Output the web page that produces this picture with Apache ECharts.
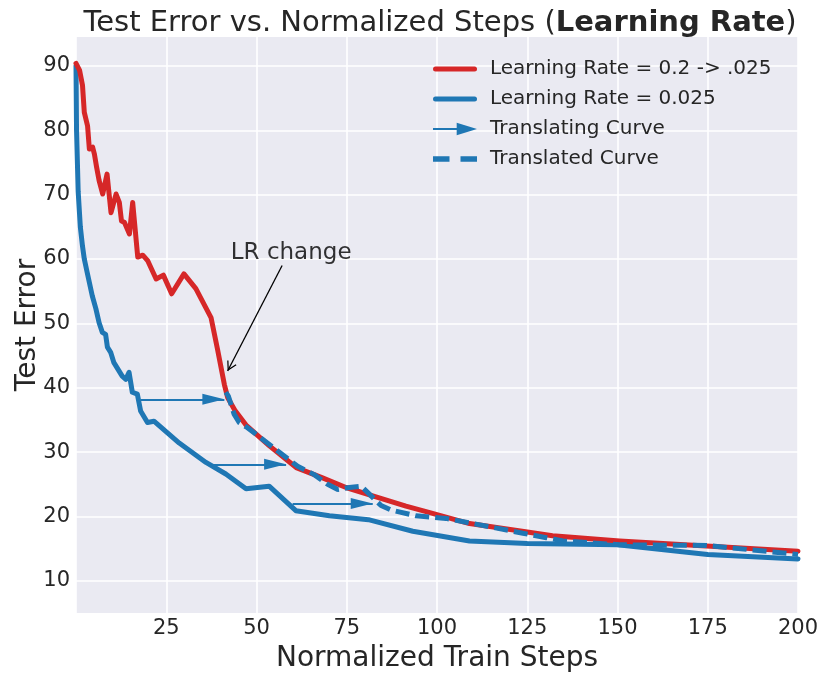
<!DOCTYPE html>
<html><head><meta charset="utf-8">
<script src="https://cdn.jsdelivr.net/npm/echarts@6/dist/echarts.min.js"></script>
<style>html,body{margin:0;padding:0;background:#fff}#c{width:831px;height:683px}</style>
</head><body><div id="c"></div>
<script>
// ---- data ----
const redX = [0, 1.0, 1.8, 2.3, 3.2, 3.7, 4.6, 5.1, 5.7, 6.4, 7.4, 8.6, 9.7, 11.1, 12.0, 12.6, 13.4, 14.8, 15.7, 17.1, 18.5, 19.9, 22.2, 24.2, 26.5, 29.9, 33.2, 37.4, 39.2, 41.1, 42.0, 44.0, 47.1, 53.5, 61.0, 68.3, 74.8, 82.2, 91.4, 98.0, 109.0, 125.0, 132.0, 150.6, 174.6, 200.0];
const redY = [90.4, 89.3, 87.0, 82.8, 80.7, 77.1, 77.4, 76.3, 74.3, 72.2, 70.1, 73.2, 67.2, 70.1, 68.8, 65.9, 65.7, 63.9, 68.8, 60.3, 60.6, 59.7, 56.9, 57.5, 54.6, 57.7, 55.4, 50.9, 46.0, 40.5, 38.5, 36.5, 34.2, 31.0, 27.6, 26.0, 24.5, 23.2, 21.6, 20.6, 18.9, 17.6, 17.0, 16.2, 15.4, 14.6];
const blueX = [0, 0.15, 0.6, 1.2, 1.8, 2.3, 3.1, 4.5, 5.5, 6.4, 7.3, 8.2, 8.7, 9.6, 10.5, 12.8, 13.8, 14.7, 15.6, 17.0, 17.9, 19.8, 21.6, 28.6, 36.0, 41.5, 47.1, 53.5, 60.9, 70.2, 81.0, 93.3, 109.0, 125.0, 150.0, 175.0, 200.0];
const blueY = [90, 80, 70.5, 65, 62, 60, 57.9, 54.3, 52.3, 50.1, 48.6, 48.3, 46.3, 45.5, 43.9, 41.8, 41.3, 42.4, 39.3, 39.0, 36.4, 34.6, 34.8, 31.4, 28.4, 26.6, 24.3, 24.7, 20.9, 20.1, 19.5, 17.7, 16.2, 15.8, 15.6, 14.1, 13.4];
const dashX = [41.5, 42.2, 43.8, 45.2, 47.5, 54.0, 61.4, 66.0, 69.7, 72.5, 75.7, 79.0, 84.5, 87.3, 94.2, 102.5, 109.0, 123.8, 130.3, 134.9, 150.6, 174.6, 200.0];
const dashY = [39.3, 38.7, 35.9, 34.6, 33.8, 31.0, 27.8, 26.5, 25.0, 24.2, 24.5, 24.7, 21.7, 21.0, 20.1, 19.7, 19.0, 17.4, 16.7, 16.2, 15.6, 15.5, 14.1];
const arrowStartX = [17.9, 36.9, 60.0];
const arrowEndX = [41.1, 58.2, 82.2];
const arrowY = [38.2, 28.1, 22.0];
const annText = 'LR change';
const annTextPos = [59.6, 61.0];
const annArrowFrom = [57.1, 59.0];
const annArrowTo = [42.0, 42.6];
const xTicks = [25, 50, 75, 100, 125, 150, 175, 200];
const yTicks = [10, 20, 30, 40, 50, 60, 70, 80, 90];
const names = ['Learning Rate = 0.2 -> .025', 'Learning Rate = 0.025', 'Translating Curve', 'Translated Curve'];

const zip = (xs, ys) => xs.map((x, i) => [x, ys[i]]);
const RED = '#d62728', BLUE = '#1f77b4', TXT = '#262626';
const FONT = 'DejaVu Sans';

// arrow heads drawn in a square box, tip at the box centre (so the tip sits on the end point)
const headPath = 'path://M22,22 L27.5,44 L16.5,44 Z M21.95,0 L22.05,0 L22,0.1 Z M0,21.95 L0.1,22 L0,22.05 Z M44,21.95 L44,22.05 L43.9,22 Z';
const chevronPath = 'path://M22,22 L27.2,31.2 L26.1,31.8 L22,24.5 L17.9,31.8 L16.8,31.2 Z M21.95,0 L22.05,0 L22,0.1 Z M21.95,43.9 L22.05,43.9 L22,44 Z M0,21.95 L0.1,22 L0,22.05 Z M44,21.95 L44,22.05 L43.9,22 Z';

const chart = echarts.init(document.getElementById('c'), null, {renderer: 'canvas'});
chart.setOption({
  backgroundColor: '#ffffff',
  animation: false,
  textStyle: {fontFamily: FONT},
  title: {
    text: '{n|Test Error vs. Normalized Steps (}{b|Learning Rate}{n|)}',
    left: 435, top: 4, textAlign: 'center',
    textStyle: {
      fontWeight: 'normal',
      rich: {
        n: {fontFamily: FONT, fontSize: 29, fontWeight: 'normal', color: TXT},
        b: {fontFamily: FONT, fontSize: 29, fontWeight: 'bold', color: TXT}
      }
    }
  },
  legend: {
    orient: 'vertical', left: 428, top: 54,
    itemWidth: 44, itemHeight: 14, itemGap: 10,
    selectedMode: false,
    itemStyle: {borderWidth: 0},
    textStyle: {fontFamily: FONT, fontSize: 20, color: TXT, lineHeight: 20, padding: [0, 0, 0, 8]},
    data: [
      {name: names[0], icon: 'path://M2.5,0h39a2.5,2.5 0 0 1 0,5h-39a2.5,2.5 0 0 1 0,-5z'},
      {name: names[1], icon: 'path://M2.5,0h39a2.5,2.5 0 0 1 0,5h-39a2.5,2.5 0 0 1 0,-5z'},
      {name: names[2], icon: 'path://M3,4.6h24v1.8h-24z M24,0L42,5.5L24,11z'},
      {name: names[3], icon: 'path://M0,0h15v5h-15z M25,0h15v5h-15z'}
    ]
  },
  grid: {left: 76, right: 33, top: 37, bottom: 70, containLabel: false, outerBoundsMode: 'none',
         show: true, backgroundColor: '#eaeaf2', borderWidth: 0},
  xAxis: {
    type: 'value', min: 0, max: 200, interval: 25,
    name: 'Normalized Train Steps', nameLocation: 'middle', nameGap: 32, nameMoveOverlap: false,
    nameTextStyle: {fontFamily: FONT, fontSize: 28, color: TXT},
    axisLine: {show: false}, axisTick: {show: false},
    axisLabel: {showMinLabel: false, fontFamily: FONT, fontSize: 21, color: TXT, margin: 5},
    splitLine: {show: true, lineStyle: {color: '#ffffff', width: 1.6}}
  },
  yAxis: {
    type: 'value', min: 5, max: 94.5,
    name: 'Test Error', nameLocation: 'middle', nameGap: 34, nameMoveOverlap: false,
    nameTextStyle: {fontFamily: FONT, fontSize: 28, color: TXT},
    axisLine: {show: false},
    axisTick: {show: false, customValues: yTicks},
    axisLabel: {customValues: yTicks, fontFamily: FONT, fontSize: 21, color: TXT, margin: 6},
    splitLine: {show: true, lineStyle: {color: '#ffffff', width: 1.6}}
  },
  series: [
    {
      name: names[1], type: 'line', data: zip(blueX, blueY), showSymbol: false, symbol: 'none',
      color: BLUE, lineStyle: {color: BLUE, width: 5, join: 'round', cap: 'round'}, z: 2
    },
    {
      name: names[0], type: 'line', data: zip(redX, redY), showSymbol: false, symbol: 'none',
      color: RED, lineStyle: {color: RED, width: 5, join: 'round', cap: 'round'}, z: 3
    },
    {
      name: names[3], type: 'line', data: zip(dashX, dashY), showSymbol: false, symbol: 'none',
      color: BLUE, lineStyle: {color: BLUE, width: 5, type: [14, 6]}, z: 4
    },
    {
      name: names[2], type: 'lines', coordinateSystem: 'cartesian2d', color: BLUE, z: 5,
      symbol: ['none', headPath], symbolSize: 44, symbolKeepAspect: false,
      lineStyle: {color: BLUE, width: 2, opacity: 1, curveness: 0},
      data: arrowStartX.map((x, i) => ({coords: [[x, arrowY[i]], [arrowEndX[i], arrowY[i]]]}))
    },
    {
      name: 'annotation', type: 'lines', coordinateSystem: 'cartesian2d', z: 6, silent: true,
      symbol: ['none', chevronPath], symbolSize: 44, symbolKeepAspect: false,
      lineStyle: {color: '#000000', width: 1.3, opacity: 1, curveness: 0},
      itemStyle: {color: '#000000'},
      data: [{coords: [annArrowFrom, annArrowTo]}]
    },
    {
      name: 'annotationText', type: 'scatter', z: 6, silent: true,
      symbolSize: 1, itemStyle: {color: 'rgba(0,0,0,0)'},
      label: {show: true, position: 'inside', formatter: annText, fontFamily: FONT, fontSize: 23, color: '#000000'},
      data: [annTextPos]
    }
  ]
});
</script>
</body></html>
